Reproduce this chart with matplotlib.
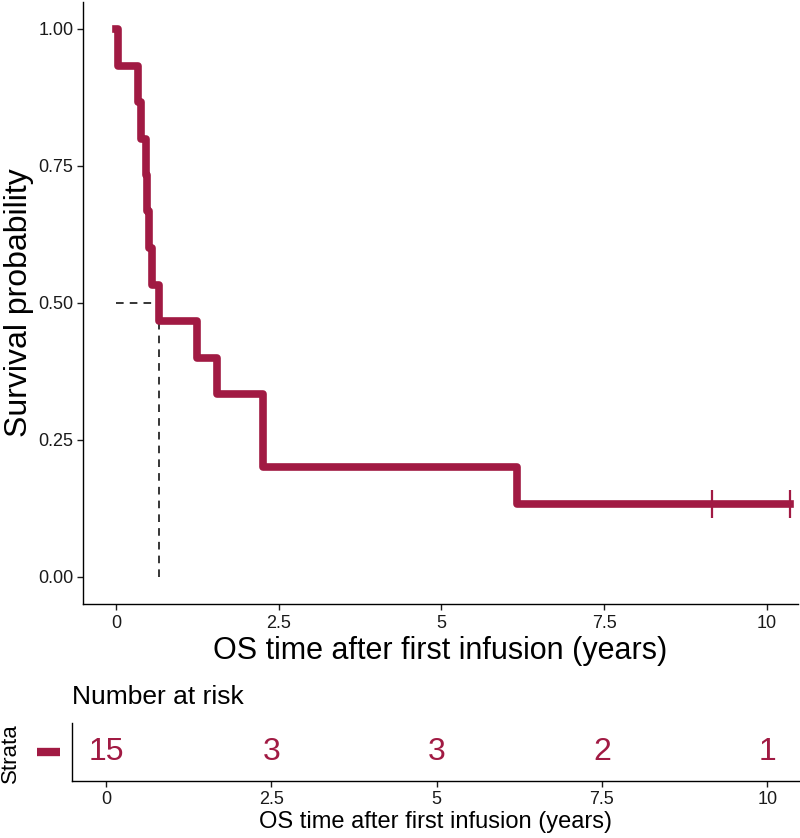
import matplotlib.pyplot as plt

plt.rcParams['font.family'] = ['Liberation Sans', 'DejaVu Sans']

# Kaplan-Meier step curve (time in years, survival probability)
step_times = [0.0, 0.03, 0.34, 0.39, 0.46, 0.48, 0.50, 0.56, 0.665, 1.25, 1.55, 2.26, 6.16, 10.35]
step_surv = [1.0, 0.933, 0.867, 0.8, 0.733, 0.667, 0.6, 0.533, 0.467, 0.4, 0.333, 0.2, 0.133, 0.133]
censor_times = [9.155, 10.35]
censor_surv = [0.133, 0.133]
median_time = 0.665

risk_times = [0, 2.5, 5, 7.5, 10]
risk_counts = [15, 3, 3, 2, 1]
x_ticks = [0, 2.5, 5, 7.5, 10]
x_ticklabels = ['0', '2.5', '5', '7.5', '10']
y_ticks = [0, 0.25, 0.5, 0.75, 1.0]
y_ticklabels = ['0.00', '0.25', '0.50', '0.75', '1.00']

red = '#A11A43'
txt = '#1a1a1a'

fig = plt.figure(figsize=(8, 8.38), dpi=100)
ax = fig.add_axes([0.10375, 0.2792, 0.89375, 0.7189])
ax.step(step_times, step_surv, where='post', color=red, lw=5.5, solid_joinstyle='round', zorder=3)
ax.plot(censor_times, censor_surv, ls='none', marker='|', color=red, markersize=20, mew=1.6, zorder=4)
ax.plot([0, median_time], [0.5, 0.5], color='black', ls=(0, (5, 4)), lw=1.1, zorder=2)
ax.plot([median_time, median_time], [0, 0.5], color='black', ls=(0, (5, 4)), lw=1.1, zorder=2)

ax.set_xlim(-0.507, 10.48)
ax.set_ylim(-0.05, 1.05)
ax.set_xticks(x_ticks)
ax.set_xticklabels(x_ticklabels)
ax.set_yticks(y_ticks)
ax.set_yticklabels(y_ticklabels)
ax.tick_params(labelsize=13, length=4, width=1.0, colors=txt, pad=3)
ax.tick_params(axis='x', pad=4)
for s in ['left', 'bottom']:
    ax.spines[s].set_linewidth(1.0)
ax.spines['top'].set_visible(False)
ax.spines['right'].set_visible(False)
ax.set_xlabel('OS time after first infusion (years)', fontsize=22, labelpad=3)
ax.set_ylabel('Survival probability', fontsize=23, labelpad=3)

# risk table
rax = fig.add_axes([0.09, 0.068, 0.9088, 0.0692])
for t, n in zip(risk_times, risk_counts):
    rax.text(t, 0.5, str(n), color=red, fontsize=23, ha='center', va='center')
rax.set_xlim(-0.514, 10.48)
rax.set_ylim(0, 1)
rax.set_xticks(x_ticks)
rax.set_xticklabels(x_ticklabels)
rax.set_yticks([0.5])
rax.set_yticklabels([''])
rax.tick_params(axis='y', length=0)
rax.tick_params(axis='x', labelsize=13, length=4, width=1.0, colors=txt, pad=3)
for s in ['left', 'bottom']:
    rax.spines[s].set_linewidth(1.0)
rax.spines['top'].set_visible(False)
rax.spines['right'].set_visible(False)
rax.set_xlabel('OS time after first infusion (years)', fontsize=17, labelpad=2)
rax.plot([-1.044, -0.696], [0.5, 0.5], color=red, lw=6, clip_on=False, solid_capstyle='butt')
fig.text(0.0125, 0.1014, 'Strata', rotation=90, fontsize=16, ha='center', va='center')
fig.text(0.09, 0.1683, 'Number at risk', fontsize=19, ha='left', va='center')

fig.savefig('out.png', dpi=100)
